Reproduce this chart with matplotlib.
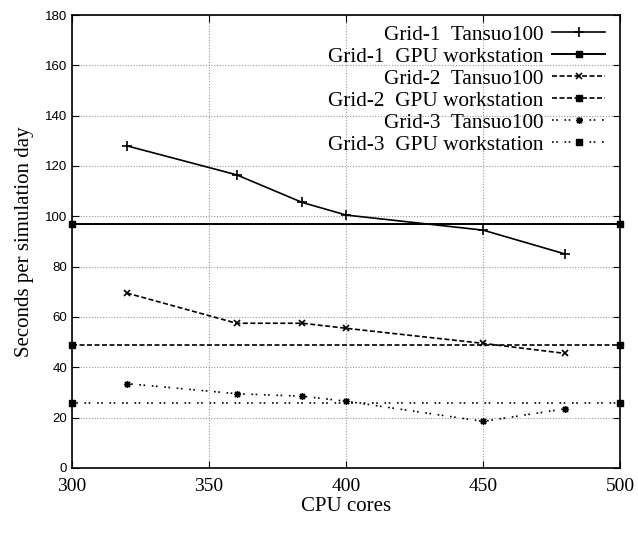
import matplotlib
matplotlib.use("Agg")
import matplotlib.pyplot as plt

cores = [320, 360, 384, 400, 450, 480]
gpu_x = [300, 500]

grid1_tansuo = [128, 116.5, 105.5, 100.5, 94.5, 85]
grid2_tansuo = [69.5, 57.5, 57.5, 55.5, 49.5, 45.5]
grid3_tansuo = [33.5, 29.5, 28.5, 26.5, 18.5, 23.5]
grid1_gpu = 97
grid2_gpu = 49
grid3_gpu = 26

serif = "Liberation Serif"
sans = "Liberation Sans"

fig = plt.figure(figsize=(6.38, 5.36), dpi=100)
ax = fig.add_axes([0.113, 0.127, 0.859, 0.845])

dash = (0, (3, 1.5))
dot = (0, (1, 1.5, 1, 4))
star = (8, 2, 0)

ax.plot(cores, grid1_tansuo, color="black", lw=1.2, ls="-", marker="+", ms=7,
        mew=1.2, label="Grid-1  Tansuo100")
ax.plot(gpu_x, [grid1_gpu] * 2, color="black", lw=1.4, ls="-", marker="s", ms=5,
        clip_on=False, label="Grid-1  GPU workstation")
ax.plot(cores, grid2_tansuo, color="black", lw=1.2, ls=dash, marker="x", ms=5,
        mew=1.2, label="Grid-2  Tansuo100")
ax.plot(gpu_x, [grid2_gpu] * 2, color="black", lw=1.2, ls=dash, marker="s", ms=5,
        clip_on=False, label="Grid-2  GPU workstation")
ax.plot(cores, grid3_tansuo, color="black", lw=1.2, ls=dot, marker=star, ms=5,
        mew=1.0, label="Grid-3  Tansuo100")
ax.plot(gpu_x, [grid3_gpu] * 2, color="black", lw=1.2, ls=dot, marker="s", ms=5,
        clip_on=False, label="Grid-3  GPU workstation")

ax.set_xlim(300, 500)
ax.set_ylim(0, 180)
ax.set_xticks([300, 350, 400, 450, 500])
ax.set_yticks(range(0, 181, 20))
ax.grid(True, color="#999999", ls=(0, (1, 1.5)), lw=0.8)
ax.tick_params(direction="in", top=True, right=True, length=5, width=0.8)
ax.tick_params(axis="x", pad=7)
for lab in ax.get_yticklabels():
    lab.set_fontfamily(sans)
    lab.set_fontsize(9.5)
for lab in ax.get_xticklabels():
    lab.set_fontfamily(serif)
    lab.set_fontsize(14)
for s in ax.spines.values():
    s.set_linewidth(1.2)

ax.set_xlabel("CPU cores", fontfamily=serif, fontsize=15, labelpad=2)
ax.set_ylabel("Seconds per simulation day", fontfamily=serif, fontsize=15, labelpad=8)

ax.legend(loc="upper right", bbox_to_anchor=(1.0, 1.011), frameon=False,
          markerfirst=False, numpoints=1, handlelength=2.5, handletextpad=0.4,
          labelspacing=0.1, borderaxespad=0.3, prop={"family": serif, "size": 15.3})

fig.savefig("out.png", dpi=100)
